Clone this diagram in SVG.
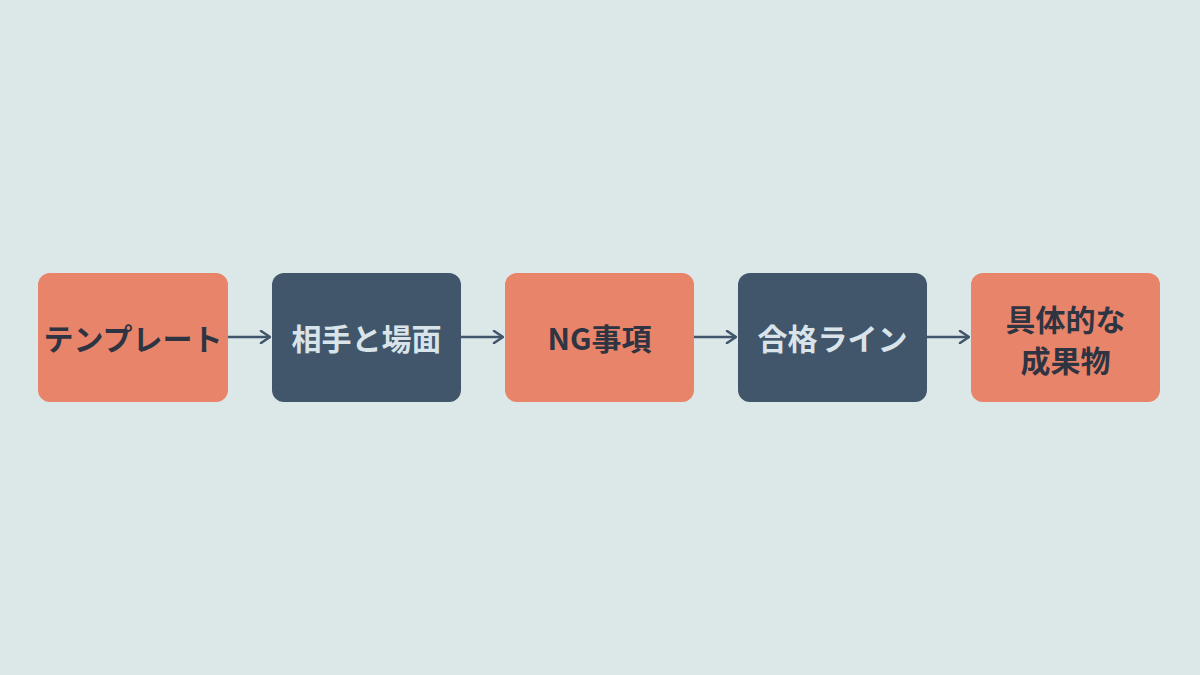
<svg xmlns="http://www.w3.org/2000/svg" width="1200" height="675" viewBox="0 0 1200 675">
<defs>
<style>
.bg{fill:#dce7e8}
.o{fill:#e8846a}
.d{fill:#42566b}
.t{font-family:"Noto Sans CJK JP","Noto Sans",sans-serif;font-weight:bold;font-size:30px;text-anchor:middle;dominant-baseline:central}
.to{fill:#2f3442}
.td{fill:#d9e4ea}
.c{stroke:#42566b;stroke-width:2.5;fill:none}
</style>
<marker id="ah" viewBox="0 0 12 14" refX="11" refY="7" markerWidth="12" markerHeight="14" markerUnits="userSpaceOnUse" orient="auto">
<path d="M2,1 L11,7 L2,13" fill="none" stroke="#42566b" stroke-width="2.5" stroke-linecap="round" stroke-linejoin="round"/>
</marker>
</defs>
<rect class="bg" x="0" y="0" width="1200" height="675"/>
<g id="connectors">
<line class="c" x1="228" y1="337" x2="270" y2="337" marker-end="url(#ah)"/>
<line class="c" x1="461" y1="337" x2="503" y2="337" marker-end="url(#ah)"/>
<line class="c" x1="694" y1="337" x2="736" y2="337" marker-end="url(#ah)"/>
<line class="c" x1="927" y1="337" x2="969" y2="337" marker-end="url(#ah)"/>
</g>
<g id="n1"><rect class="o" x="38" y="273" width="190" height="129" rx="12"/><text class="t to" x="133" y="337">テンプレート</text></g>
<g id="n2"><rect class="d" x="272" y="273" width="189" height="129" rx="12"/><text class="t td" x="366.5" y="337">相手と場面</text></g>
<g id="n3"><rect class="o" x="505" y="273" width="189" height="129" rx="12"/><text class="t to" x="599.5" y="337">NG事項</text></g>
<g id="n4"><rect class="d" x="738" y="273" width="189" height="129" rx="12"/><text class="t td" x="832.5" y="337">合格ライン</text></g>
<g id="n5"><rect class="o" x="971" y="273" width="189" height="129" rx="12"/><text class="t to" x="1065.5" y="318">具体的な</text><text class="t to" x="1065.5" y="359">成果物</text></g>
</svg>
